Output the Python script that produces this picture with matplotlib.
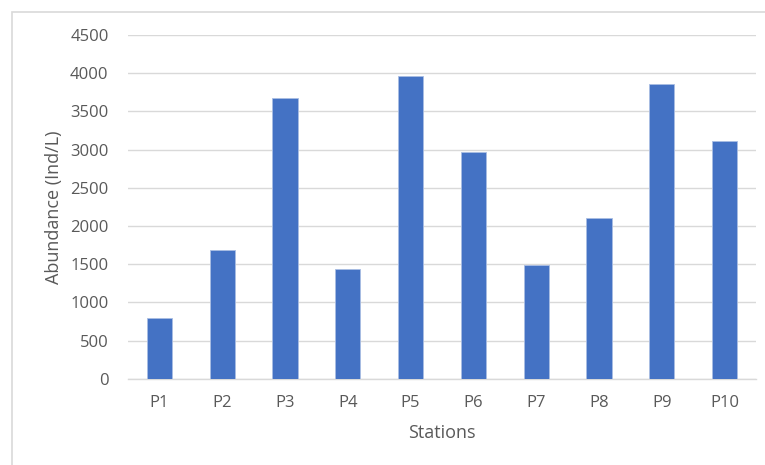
import matplotlib.pyplot as plt
from matplotlib.patches import Rectangle

# abundance per sampling station
stations = ['P1', 'P2', 'P3', 'P4', 'P5', 'P6', 'P7', 'P8', 'P9', 'P10']
abundance = [795, 1685, 3670, 1432, 3967, 2964, 1489, 2104, 3862, 3112]
yticks = [0, 500, 1000, 1500, 2000, 2500, 3000, 3500, 4000, 4500]

plt.rcParams['font.family'] = ['Open Sans', 'DejaVu Sans']
grey = '#595959'

fig = plt.figure(figsize=(7.65, 4.65), dpi=100)
ax = fig.add_axes([128 / 765, 1 - 378.7 / 465, 628 / 765, 343.7 / 465])

# chart area border
fig.patches.append(Rectangle((12 / 765, -0.05), 1.0, 1 - 12 / 465 + 0.05,
                             transform=fig.transFigure, fill=False,
                             edgecolor='#d9d9d9', linewidth=1.2))

ax.bar(range(len(stations)), abundance, width=0.4, color='#4472C4',
       edgecolor='#a9bde3', linewidth=0.6, zorder=3)

ax.set_xlim(-0.5, len(stations) - 0.5)
ax.set_ylim(0, 4500)
ax.set_yticks(yticks)
ax.set_xticks(range(len(stations)))
ax.set_xticklabels(stations)
ax.yaxis.grid(True, color='#d9d9d9', linewidth=1.0, zorder=0)
ax.tick_params(axis='both', length=0, labelsize=12, colors=grey)
ax.tick_params(axis='x', pad=12)
ax.tick_params(axis='y', pad=14)

for side in ['top', 'right', 'left']:
    ax.spines[side].set_visible(False)
ax.spines['bottom'].set_color('#d9d9d9')
ax.spines['bottom'].set_linewidth(1.0)

ax.set_xlabel('Stations', fontsize=13, color=grey, labelpad=9)
ax.set_ylabel('Abundance (Ind/L)', fontsize=13, color=grey, labelpad=5)

fig.savefig('out.png', dpi=100)
